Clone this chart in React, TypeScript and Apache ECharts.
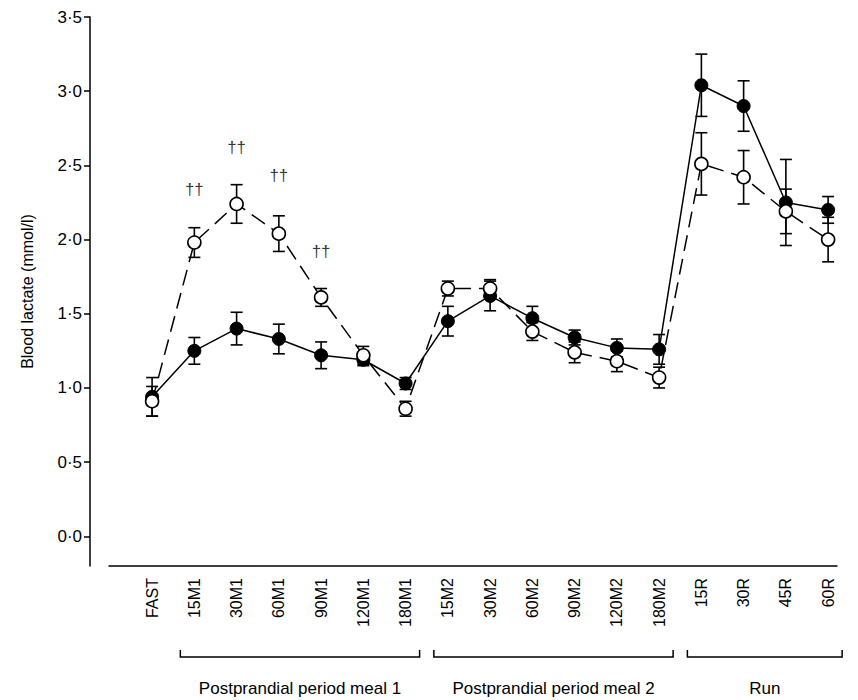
import { useEffect, useRef } from 'react';
import * as echarts from 'echarts';

const categories = ['FAST', '15M1', '30M1', '60M1', '90M1', '120M1', '180M1', '15M2', '30M2', '60M2', '90M2', '120M2', '180M2', '15R', '30R', '45R', '60R'];
const filledMean = [0.94, 1.25, 1.40, 1.33, 1.22, 1.19, 1.03, 1.45, 1.62, 1.47, 1.34, 1.27, 1.26, 3.04, 2.90, 2.25, 2.20];
const filledErr = [0.13, 0.09, 0.11, 0.10, 0.09, 0.04, 0.04, 0.10, 0.10, 0.08, 0.05, 0.06, 0.10, 0.21, 0.17, 0.29, 0.09];
const openMean = [0.91, 1.98, 2.24, 2.04, 1.61, 1.22, 0.86, 1.67, 1.67, 1.38, 1.24, 1.18, 1.07, 2.51, 2.42, 2.19, 2.00];
const openErr = [0.10, 0.10, 0.13, 0.12, 0.06, 0.06, 0.05, 0.05, 0.06, 0.06, 0.07, 0.07, 0.07, 0.21, 0.18, 0.15, 0.15];
const daggerPoints: [number, number][] = [[1, 2.34], [2, 2.62], [3, 2.43], [4, 1.92]];
const yTicks = [0, 0.5, 1, 1.5, 2, 2.5, 3, 3.5];
const xTicks = categories.map((_, i) => i);
const groups = [
  { label: 'Postprandial period meal 1', from: 1, to: 6 },
  { label: 'Postprandial period meal 2', from: 7, to: 12 },
  { label: 'Run', from: 13, to: 16 },
];

const FONT = 'Liberation Sans, Arial, sans-serif';

function errorSeries(mean: number[], err: number[]) {
  return {
    type: 'custom' as const,
    silent: true,
    z: 1,
    data: mean.map((m, i) => [i, m - err[i], m + err[i]]),
    renderItem: (_p: any, api: any) => {
      const lo = api.coord([api.value(0), api.value(1)]);
      const hi = api.coord([api.value(0), api.value(2)]);
      const w = 6;
      const style = { stroke: '#000', lineWidth: 1.6 };
      return {
        type: 'group',
        children: [
          { type: 'line', shape: { x1: lo[0], y1: lo[1], x2: hi[0], y2: hi[1] }, style },
          { type: 'line', shape: { x1: lo[0] - w, y1: lo[1], x2: lo[0] + w, y2: lo[1] }, style },
          { type: 'line', shape: { x1: hi[0] - w, y1: hi[1], x2: hi[0] + w, y2: hi[1] }, style },
        ],
      };
    },
  };
}

export default function App() {
  const ref = useRef<HTMLDivElement>(null);
  useEffect(() => {
    if (!ref.current) return;
    const chart = echarts.init(ref.current, null, { renderer: 'svg' });
    chart.setOption({
      animation: false,
      grid: { left: 109, right: 21, top: 17, bottom: 134 },
      xAxis: {
        type: 'value',
        min: -1.02,
        max: 16.21,
        splitLine: { show: false },
        axisLine: { onZero: false, lineStyle: { color: '#000', width: 1.5 } },
        axisTick: { show: false },
        axisLabel: {
          customValues: xTicks,
          rotate: 90,
          color: '#000',
          fontFamily: FONT,
          fontSize: 16,
          margin: 12,
          formatter: (v: number) => categories[Math.round(v)] ?? '',
        },
      },
      yAxis: {
        type: 'value',
        min: -0.2,
        max: 3.5,
        offset: 19,
        splitLine: { show: false },
        axisLine: { show: true, onZero: false, lineStyle: { color: '#000', width: 1.5 } },
        axisTick: { show: true, length: 6, customValues: yTicks, lineStyle: { color: '#000', width: 1.5 } },
        axisLabel: {
          customValues: yTicks,
          color: '#000',
          fontFamily: FONT,
          fontSize: 17,
          formatter: (v: number) => v.toFixed(1).replace('.', '·'),
        },
        name: 'Blood lactate (mmol/l)',
        nameLocation: 'middle',
        nameGap: 55,
        nameTextStyle: { color: '#000', fontFamily: FONT, fontSize: 16 },
      },
      series: [
        errorSeries(filledMean, filledErr),
        errorSeries(openMean, openErr),
        {
          type: 'line',
          data: openMean.map((v, i) => [i, v]),
          symbol: 'circle',
          symbolSize: 13,
          lineStyle: { color: '#000', width: 1.5, type: [16, 8] },
          itemStyle: { color: '#fff', borderColor: '#000', borderWidth: 1.6 },
          z: 3,
        },
        {
          type: 'line',
          data: filledMean.map((v, i) => [i, v]),
          symbol: 'circle',
          symbolSize: 13,
          lineStyle: { color: '#000', width: 1.5 },
          itemStyle: { color: '#000', borderColor: '#000' },
          z: 2,
        },
        {
          type: 'scatter',
          data: daggerPoints,
          symbolSize: 0,
          itemStyle: { color: '#000' },
          label: { show: true, position: 'inside', formatter: '††', color: '#000', fontFamily: FONT, fontSize: 17 },
        },
      ],
    });

    const by = 657;
    const graphics: any[] = [];
    groups.forEach(g => {
      const x1 = chart.convertToPixel({ xAxisIndex: 0 }, g.from) - 14;
      const x2 = chart.convertToPixel({ xAxisIndex: 0 }, g.to) + 14;
      graphics.push({
        type: 'polyline',
        shape: { points: [[x1, by - 7], [x1, by], [x2, by], [x2, by - 7]] },
        style: { stroke: '#000', lineWidth: 1.5, fill: 'none' },
      });
      graphics.push({
        type: 'text',
        x: (x1 + x2) / 2,
        y: 688,
        style: { text: g.label, fill: '#000', font: `17px ${FONT}`, align: 'center', verticalAlign: 'middle' },
      });
    });
    chart.setOption({ graphic: graphics });
    return () => chart.dispose();
  }, []);
  return <div ref={ref} style={{ position: 'absolute', left: 0, top: 0, width: 858, height: 700 }} />;
}
